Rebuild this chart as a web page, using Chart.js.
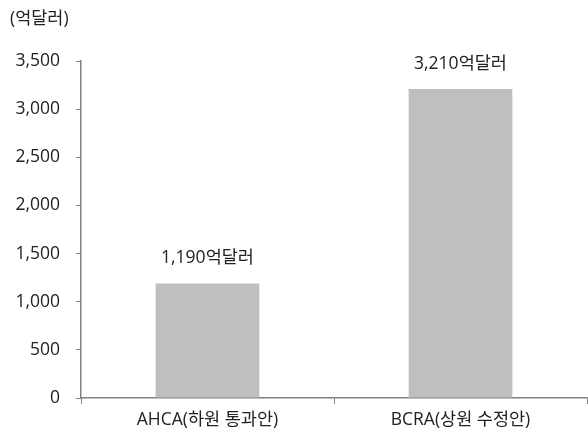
<!DOCTYPE html>
<html>
<head>
<meta charset="utf-8">
<script src="https://cdn.jsdelivr.net/npm/chart.js@4"></script>
<style>
  html, body { margin: 0; padding: 0; background: #fff; }
  #wrap { width: 588px; height: 433px; position: relative; }
</style>
</head>
<body>
<div id="wrap"><canvas id="c" width="588" height="433"></canvas></div>
<script>
  const categories = ['AHCA(하원 통과안)', 'BCRA(상원 수정안)'];
  const values = [1190, 3210];
  const valueLabels = ['1,190억달러', '3,210억달러'];
  const unitLabel = '(억달러)';

  const FONT = '"Open Sans", "Noto Sans CJK KR", sans-serif';
  const TXT = '#222222';
  const AXIS = '#808080';

  // 단위 표시 + 막대 위 값 라벨
  const textPlugin = {
    id: 'texts',
    afterDatasetsDraw(chart) {
      const ctx = chart.ctx;
      ctx.save();
      ctx.fillStyle = TXT;
      ctx.font = '17.5px ' + FONT;
      ctx.textBaseline = 'middle';
      ctx.textAlign = 'left';
      ctx.fillText(unitLabel, 10, 19);
      ctx.textAlign = 'center';
      const meta = chart.getDatasetMeta(0);
      meta.data.forEach((bar, i) => {
        ctx.fillText(valueLabels[i], bar.x, bar.y - 25);
      });
      ctx.restore();
    }
  };

  new Chart(document.getElementById('c'), {
    type: 'bar',
    data: {
      labels: categories,
      datasets: [{
        data: values,
        backgroundColor: '#bfbfbf',
        borderWidth: 0,
        categoryPercentage: 1,
        barPercentage: 0.41
      }]
    },
    options: {
      responsive: false,
      animation: false,
      layout: { padding: { top: 61, right: 1, left: 0, bottom: 0 } },
      plugins: { legend: { display: false }, tooltip: { enabled: false } },
      scales: {
        x: {
          grid: { drawOnChartArea: false, drawTicks: true, tickLength: 6, color: AXIS, offset: true },
          border: { color: AXIS, width: 1.5 },
          ticks: { color: TXT, font: { size: 17.5, family: FONT }, padding: 6, maxRotation: 0 },
          afterFit(s) { s.height = 35; }
        },
        y: {
          min: 0, max: 3500,
          grid: { drawOnChartArea: false, drawTicks: true, tickLength: 5, color: AXIS },
          border: { color: AXIS, width: 1.5 },
          ticks: {
            stepSize: 500, color: TXT, padding: 16,
            font: { size: 17.5, family: FONT },
            callback: v => v.toLocaleString('en-US')
          },
          afterFit(s) { s.width = 81; }
        }
      }
    },
    plugins: [textPlugin]
  });
</script>
</body>
</html>
